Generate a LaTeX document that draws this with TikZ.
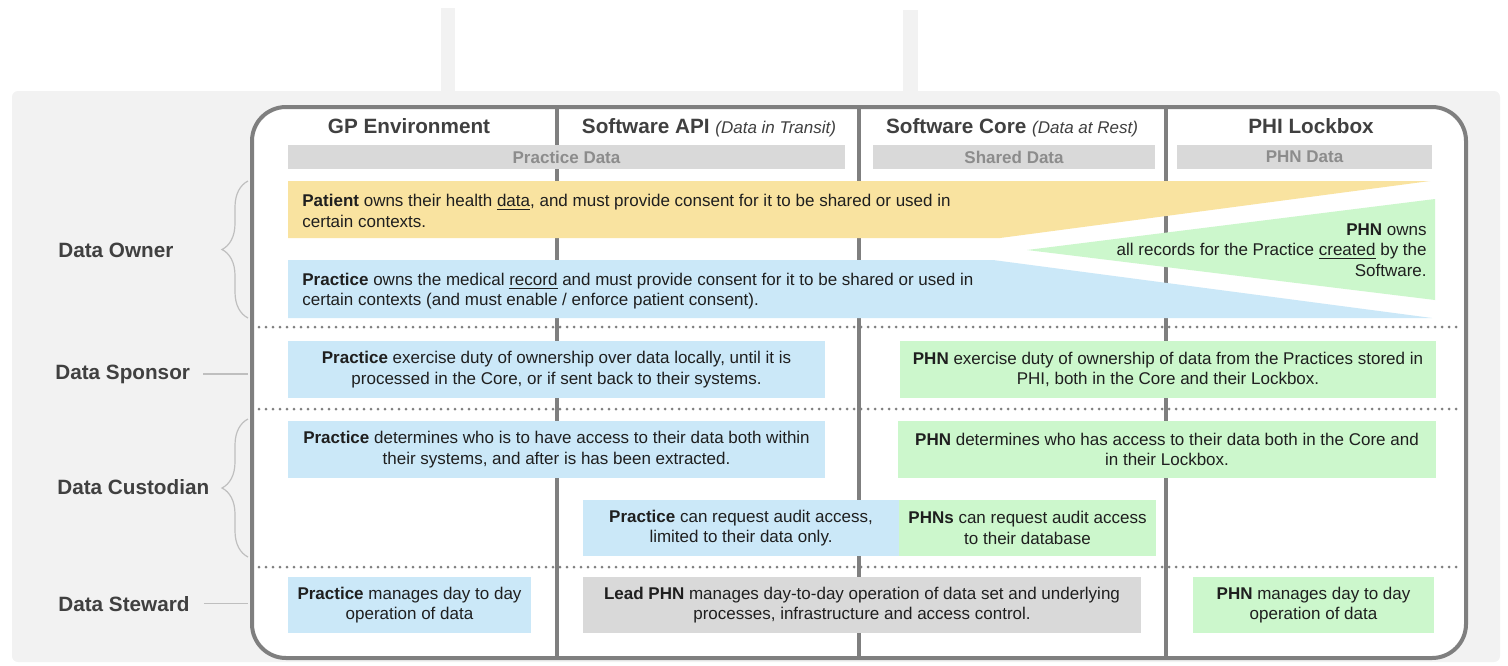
\documentclass[tikz,border=0pt]{standalone}
\usepackage{fontspec}
\setmainfont{Liberation Sans}
\usetikzlibrary{decorations.pathreplacing}
\definecolor{phibg}{HTML}{F2F2F2}
\definecolor{phiframe}{HTML}{7F7F7F}
\definecolor{phibar}{HTML}{D9D9D9}
\definecolor{phibartext}{HTML}{8C8C8C}
\definecolor{phitext}{HTML}{404040}
\definecolor{phiyellow}{HTML}{F9E3A0}
\definecolor{phiblue}{HTML}{CBE8F8}
\definecolor{phigreen}{HTML}{CCF7CC}
\definecolor{phibrace}{HTML}{BFBFBF}
\newcommand{\bodyfont}{\fontsize{8.5}{10.3}\selectfont}
\newcommand{\headfont}{\fontsize{10.35}{12}\selectfont\bfseries}

\begin{document}
\begin{tikzpicture}[
    x=0.5pt,y=-0.5pt,
    font=\bodyfont,
    cell/.style={inner sep=0pt,minimum height=28.5pt,align=center,text=black!88},
    bluecell/.style={cell,fill=phiblue},
    greencell/.style={cell,fill=phigreen},
    graycell/.style={cell,fill=phibar},
    head/.style={font=\headfont,text=phitext,anchor=base},
    databar/.style={fill=phibar,inner sep=0pt,minimum height=12pt,font=\bodyfont\bfseries,text=phibartext},
    role/.style={font=\headfont,text=phitext,anchor=base west,inner sep=0pt},
    divider/.style={draw=phiframe,line width=2pt},
    rowsep/.style={draw=phiframe,line width=1.5pt,line cap=round,dash pattern=on 0pt off 3.5pt},
    lbrace/.style={draw=phibrace,line width=0.6pt,decorate,decoration={brace,amplitude=13pt}},
    tick/.style={draw=phibrace,line width=0.6pt}
  ]
    \useasboundingbox (0,0) rectangle (1508,665);

    % backdrop and the two posts on top
    \fill[phibg,rounded corners=3pt] (12,91) rectangle (1500,662);
    \fill[phibg] (441,8) rectangle (455,92);
    \fill[phibg] (903,10) rectangle (918,92);

    % frame, row separators, columns
    \draw[fill=white,draw=phiframe,line width=2pt,rounded corners=17pt] (252,107) rectangle (1466,658);
    \foreach \y in {327,409,567}
      \draw[rowsep] (259,\y) -- (1462,\y);
    \foreach \x in {557,859,1166}
      \draw[divider] (\x,108) -- (\x,657);
    \coordinate (frameW) at (248,0);

    % column heads
    \node[head] (hGP) at (409,133) {GP Environment};
    \node[head] (hAPI) at (709,133) {Software API {\mdseries\itshape\bodyfont (Data in Transit)}};
    \node[head] (hCore) at (1012,133) {Software Core {\mdseries\itshape\bodyfont (Data at Rest)}};
    \node[head] (hBox) at (1311,133) {PHI Lockbox};
    \node[databar,minimum width=278.5pt] (pracData) at (566.5,157) {Practice Data};
    \node[databar,minimum width=141pt] (sharedData) at (1014,157) {Shared Data};
    \node[databar,minimum width=127.5pt] (phnData) at (1304.5,157) {PHN Data};

    % ownership wedges
    \fill[phiyellow] (288,181) -- (1430,181) -- (1000,238) -- (288,238) -- cycle;
    \fill[phiblue] (288,260) -- (993,260) -- (1432,318) -- (288,318) -- cycle;
    \fill[phigreen] (1027,250) -- (1435,199) -- (1435,300) -- cycle;
    \node[anchor=west,align=left,inner sep=0pt,text=black!88] (ownPatient) at (302,211)
      {\textbf{Patient} owns their health \underline{data}, and must provide consent for it to be shared or used in\\certain contexts.};
    \node[anchor=west,align=left,inner sep=0pt,text=black!88] (ownPractice) at (302,291)
      {\textbf{Practice} owns the medical \underline{record} and must provide consent for it to be shared or used in\\certain contexts (and must enable / enforce patient consent).};
    \node[anchor=east,align=right,inner sep=0pt,text=black!88] (ownPHN) at (1427,250)
      {\textbf{PHN} owns\\all records for the Practice \underline{created} by the\\Software.};

    % sponsor
    \node[bluecell,minimum width=268.5pt] (spPractice) at (556.5,369.5)
      {\textbf{Practice} exercise duty of ownership over data locally, until it is\\processed in the Core, or if sent back to their systems.};
    \node[greencell,minimum width=268pt] (spPHN) at (1168,369.5)
      {\textbf{PHN} exercise duty of ownership of data from the Practices stored in\\PHI, both in the Core and their Lockbox.};

    % custodian
    \node[bluecell,minimum width=268.5pt] (cuPractice) at (556.5,449.5)
      {\textbf{Practice} determines who is to have access to their data both within\\their systems, and after is has been extracted.};
    \node[greencell,minimum width=269pt] (cuPHN) at (1167,449.5)
      {\textbf{PHN} determines who has access to their data both in the Core and\\in their Lockbox.};
    \node[bluecell,minimum width=158pt,minimum height=28pt] (auPractice) at (741,528)
      {\textbf{Practice} can request audit access,\\limited to their data only.};
    \node[greencell,minimum width=128.5pt,minimum height=28pt] (auPHN) at (1027.5,528)
      {\textbf{PHNs} can request audit access\\to their database};

    % steward
    \node[bluecell,minimum width=121.5pt,minimum height=28pt] (stPractice) at (409.5,605)
      {\textbf{Practice} manages day to day\\operation of data};
    \node[graycell,minimum width=279pt,minimum height=28pt] (stLead) at (862,605)
      {\textbf{Lead PHN} manages day-to-day operation of data set and underlying\\processes, infrastructure and access control.};
    \node[greencell,minimum width=120.5pt,minimum height=28pt] (stPHN) at (1313.5,605)
      {\textbf{PHN} manages day to day\\operation of data};

    % roles down the left
    \node[role] (rOwner) at (58,257) {Data Owner};
    \node[role] (rSponsor) at (55,379) {Data Sponsor};
    \node[role] (rCustodian) at (57,494) {Data Custodian};
    \node[role] (rSteward) at (58,611) {Data Steward};
    \draw[lbrace] (248,318) -- (248,181);
    \draw[lbrace] (248,557) -- (248,419);
    \draw[tick] ([xshift=6.5pt]rSponsor.east) -- (rSponsor.east -| frameW);
    \draw[tick] ([xshift=7pt]rSteward.east) -- (rSteward.east -| frameW);
  \end{tikzpicture}
\end{document}
